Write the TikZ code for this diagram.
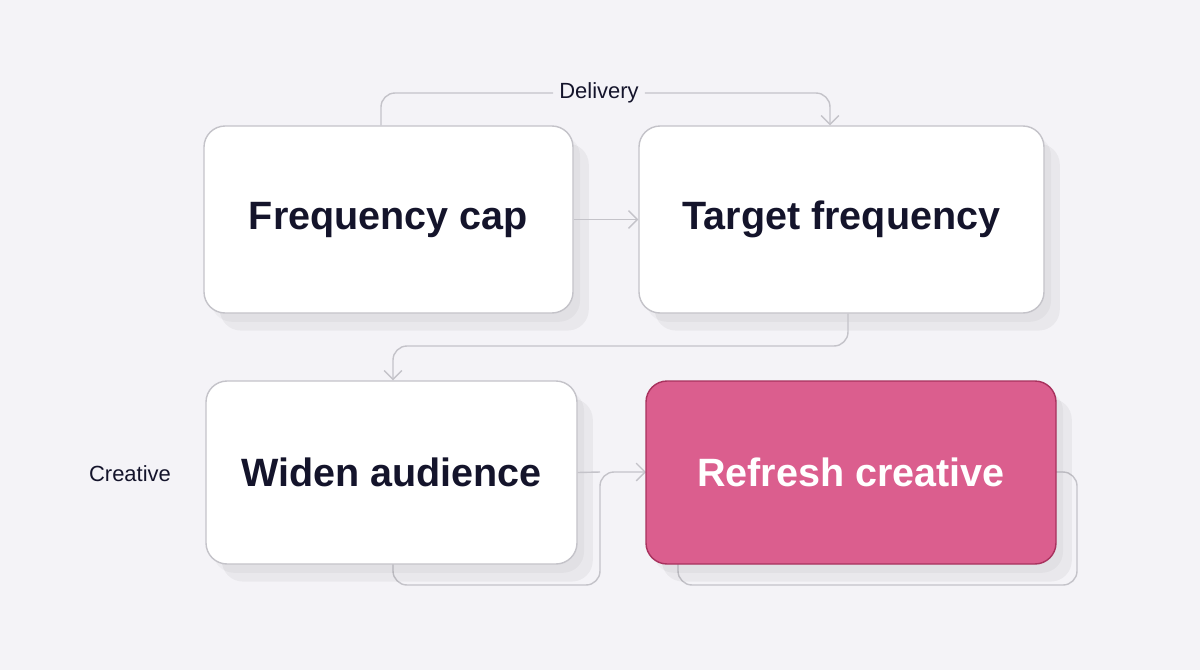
\documentclass[tikz,border=0pt]{standalone}
\usepackage{fontspec}
\setmainfont{Liberation Sans}
\usepackage{xcolor}
\usetikzlibrary{calc,arrows.meta,shadows}
\definecolor{bg}{HTML}{F4F3F7}
\definecolor{edge}{HTML}{C4C3C9}
\definecolor{ink}{HTML}{14142B}
\definecolor{pink}{HTML}{DB5E8E}
\definecolor{pinkline}{HTML}{A8325E}
\tikzset{
  card/.style={draw=edge, fill=white, line width=0.8pt, rounded corners=12pt,
    font=\fontsize{22.5}{26}\selectfont\bfseries, text=ink,
    drop shadow={shadow xshift=9pt, shadow yshift=-10pt, fill=black, opacity=0.045},
    drop shadow={shadow xshift=4pt, shadow yshift=-5pt, fill=black, opacity=0.03}},
  hot/.style={card, fill=pink, draw=pinkline, text=white},
  wire/.style={draw=edge, line width=0.8pt, rounded corners=8pt},
  tip/.style={-{Straight Barb[length=5pt,width=10pt]}},
  lbl/.style={font=\fontsize{12.5}{15}\selectfont, text=ink}
}
\begin{document}
\begin{tikzpicture}[x=0.02cm, y=-0.02cm]
  \fill[bg] (0,0) rectangle (1200,670);

  % wires that run behind the cards
  \coordinate (wa) at (393,540);
  \coordinate (wb) at (646,472);
  \draw[wire, tip] (wa) |- (600,585) |- (wb);
  \draw[wire] (1030,472) -| (1077,585) -| (678,540);

  % cards
  \node[card, minimum width=369*0.02cm, minimum height=187*0.02cm] (cap) at (388.5,219.5) {Frequency cap};
  \node[card, minimum width=405*0.02cm, minimum height=187*0.02cm] (target) at (841.5,219.5) {Target frequency};
  \node[card, minimum width=371*0.02cm, minimum height=183*0.02cm] (widen) at (391.5,472.5) {Widen audience};
  \node[hot, minimum width=410*0.02cm, minimum height=183*0.02cm] (refresh) at (851,472.5) {Refresh creative};

  % labels
  \node[lbl] (delivery) at (599,93) {Delivery};
  \node[lbl] (creative) at (130,474) {Creative};

  % connectors
  \draw[wire] (381,0 |- cap.north) |- (delivery.west);
  \draw[wire, tip] (delivery.east) -| (830,0 |- target.north);
  \draw[wire, tip] (cap) -- (target);
  \draw[wire, tip] (848,0 |- target.south) |- (393,346) -- (393,0 |- widen.north);
  \draw[wire] (widen.east) -- (600,472);
\end{tikzpicture}
\end{document}
